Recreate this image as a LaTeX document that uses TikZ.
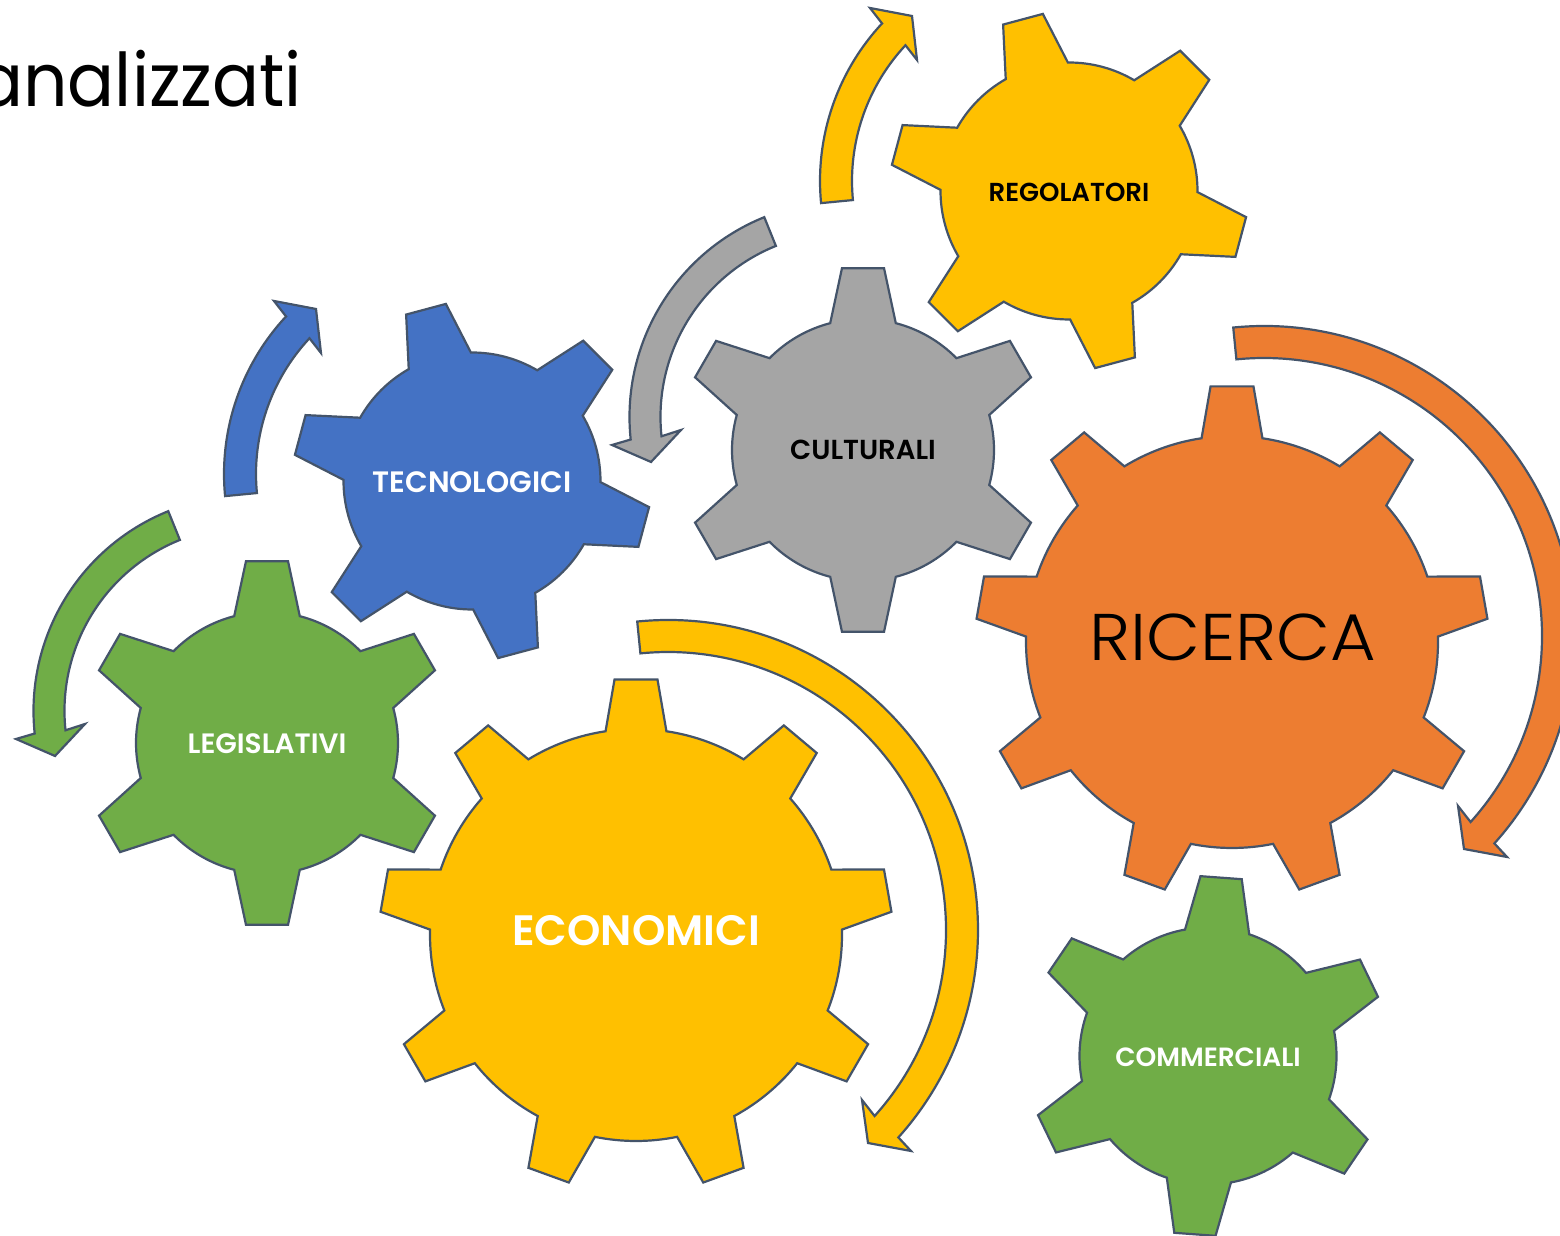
\documentclass[tikz,border=0pt]{standalone}
\usepackage{xcolor}
\usepackage{fontspec}
\setmainfont{Poppins}
\newfontfamily\labelfont{Poppins SemiBold}
\newfontfamily\titlefont{Poppins Light}
\usetikzlibrary{positioning}

\definecolor{gearyellow}{HTML}{FFC000}
\definecolor{gearorange}{HTML}{ED7D31}
\definecolor{gearblue}{HTML}{4472C4}
\definecolor{geargreen}{HTML}{70AD47}
\definecolor{geargray}{HTML}{A5A5A5}
\definecolor{gearline}{HTML}{44546A}

\begin{document}
\begin{tikzpicture}[
		x=1pt, y=1pt,
		line width=2.2pt,
		gear/.style={draw=gearline, line join=miter},
		sweep/.style={draw=gearline, line join=miter},
		white label/.style={text=white},
		black label/.style={text=black}
		]
	
	\useasboundingbox (0, 0) rectangle (1560, 1236);
	
	% Small arrows (centre, start angle, neck angle)
	\foreach \ax/\ay/\col in {1051/1055/gearyellow, 455/762/gearblue}{
		\begin{scope}[shift={(\ax, \ay)}]
			\draw[sweep, fill=\col] (185.5:231) arc[start angle=185.5, end angle=137, radius=231]
				-- (-181, 173) -- (-139, 165) -- (-134, 121) -- (137:199)
				arc[start angle=137, end angle=185.5, radius=199] -- cycle;
		\end{scope}
	}
	\foreach \ax/\ay/\col in {845/819/geargray, 249/525/geargreen}{
		\begin{scope}[shift={(\ax, \ay)}]
			\draw[sweep, fill=\col] (112:215.5) arc[start angle=112, end angle=186, radius=215.5]
				-- (-233, -28) -- (-194, -45) -- (-164, -13) -- (186:184.5)
				arc[start angle=186, end angle=112, radius=184.5] -- cycle;
		\end{scope}
	}
	
	% Big arrows
	\foreach \ax/\ay/\col in {668/306/gearyellow, 1264/600/gearorange}{
		\begin{scope}[shift={(\ax, \ay)}]
			\draw[sweep, fill=\col] (95.7:310) arc[start angle=95.7, end angle=-42, radius=310]
				-- (243, -221) -- (200, -213) -- (194, -170) -- (-42:278)
				arc[start angle=-42, end angle=95.7, radius=278] -- cycle;
		\end{scope}
	}
	
	% Gears
	\foreach \cx/\cy/\rot/\teeth/\rb/\rt/\hb/\ht/\col in {
		863/786/90/6/131/183/14.5/6.6/geargray,
		267/493/90/6/131/183/14.5/6.6/geargreen,
		472/755/105/6/128.5/179/14.5/6.6/gearblue,
		1069/1045/105/6/128.5/179/14.5/6.6/gearyellow,
		1208/180/85.8/6/128.5/180/14.5/6.6/geargreen,
		636/301/90/9/206/256.5/8.5/4.8/gearyellow,
		1232/594/90/9/206/256.5/8.5/4.8/gearorange}{
		\begin{scope}[shift={(\cx, \cy)}]
			\draw[gear, fill=\col] (\rot-\hb:\rb)
				\foreach \i [evaluate=\i as \a using \rot+(\i-1)*360/\teeth] in {1,...,\teeth}{
					-- (\a-\ht:\rt) -- (\a+\ht:\rt) -- (\a+\hb:\rb)
					arc[start angle=\a+\hb, end angle=\a+360/\teeth-\hb, radius=\rb]
				} -- cycle;
		\end{scope}
	}
	
	% Labels
	\node[black label, font=\labelfont\fontsize{26}{26}\selectfont] (regolatori) at (1069, 1044) {REGOLATORI};
	\node[black label, font=\labelfont\fontsize{27.5}{27.5}\selectfont] (culturali) at (863, 786) {CULTURALI};
	\node[white label, font=\labelfont\fontsize{29.5}{29.5}\selectfont] (tecnologici) at (472, 754) {TECNOLOGICI};
	\node[white label, font=\labelfont\fontsize{28}{28}\selectfont] (legislativi) at (267, 492) {LEGISLATIVI};
	\node[white label, font=\labelfont\fontsize{26.4}{26.4}\selectfont] (commerciali) at (1208, 179) {COMMERCIALI};
	\node[white label, font=\labelfont\fontsize{42.5}{42.5}\selectfont] (economici) at (636, 305) {ECONOMICI};
	\node[black label, font=\titlefont\fontsize{66}{66}\selectfont, xscale=1.06, transform shape] (ricerca) at (1233, 599) {RICERCA};
	
	% Title, cut off by the page edge
	\node[anchor=base east, inner sep=0pt, font=\rmfamily\fontsize{74}{74}\selectfont, xscale=0.94, transform shape] (title) at (303, 1129) {analizzati};
	
\end{tikzpicture}
\end{document}
